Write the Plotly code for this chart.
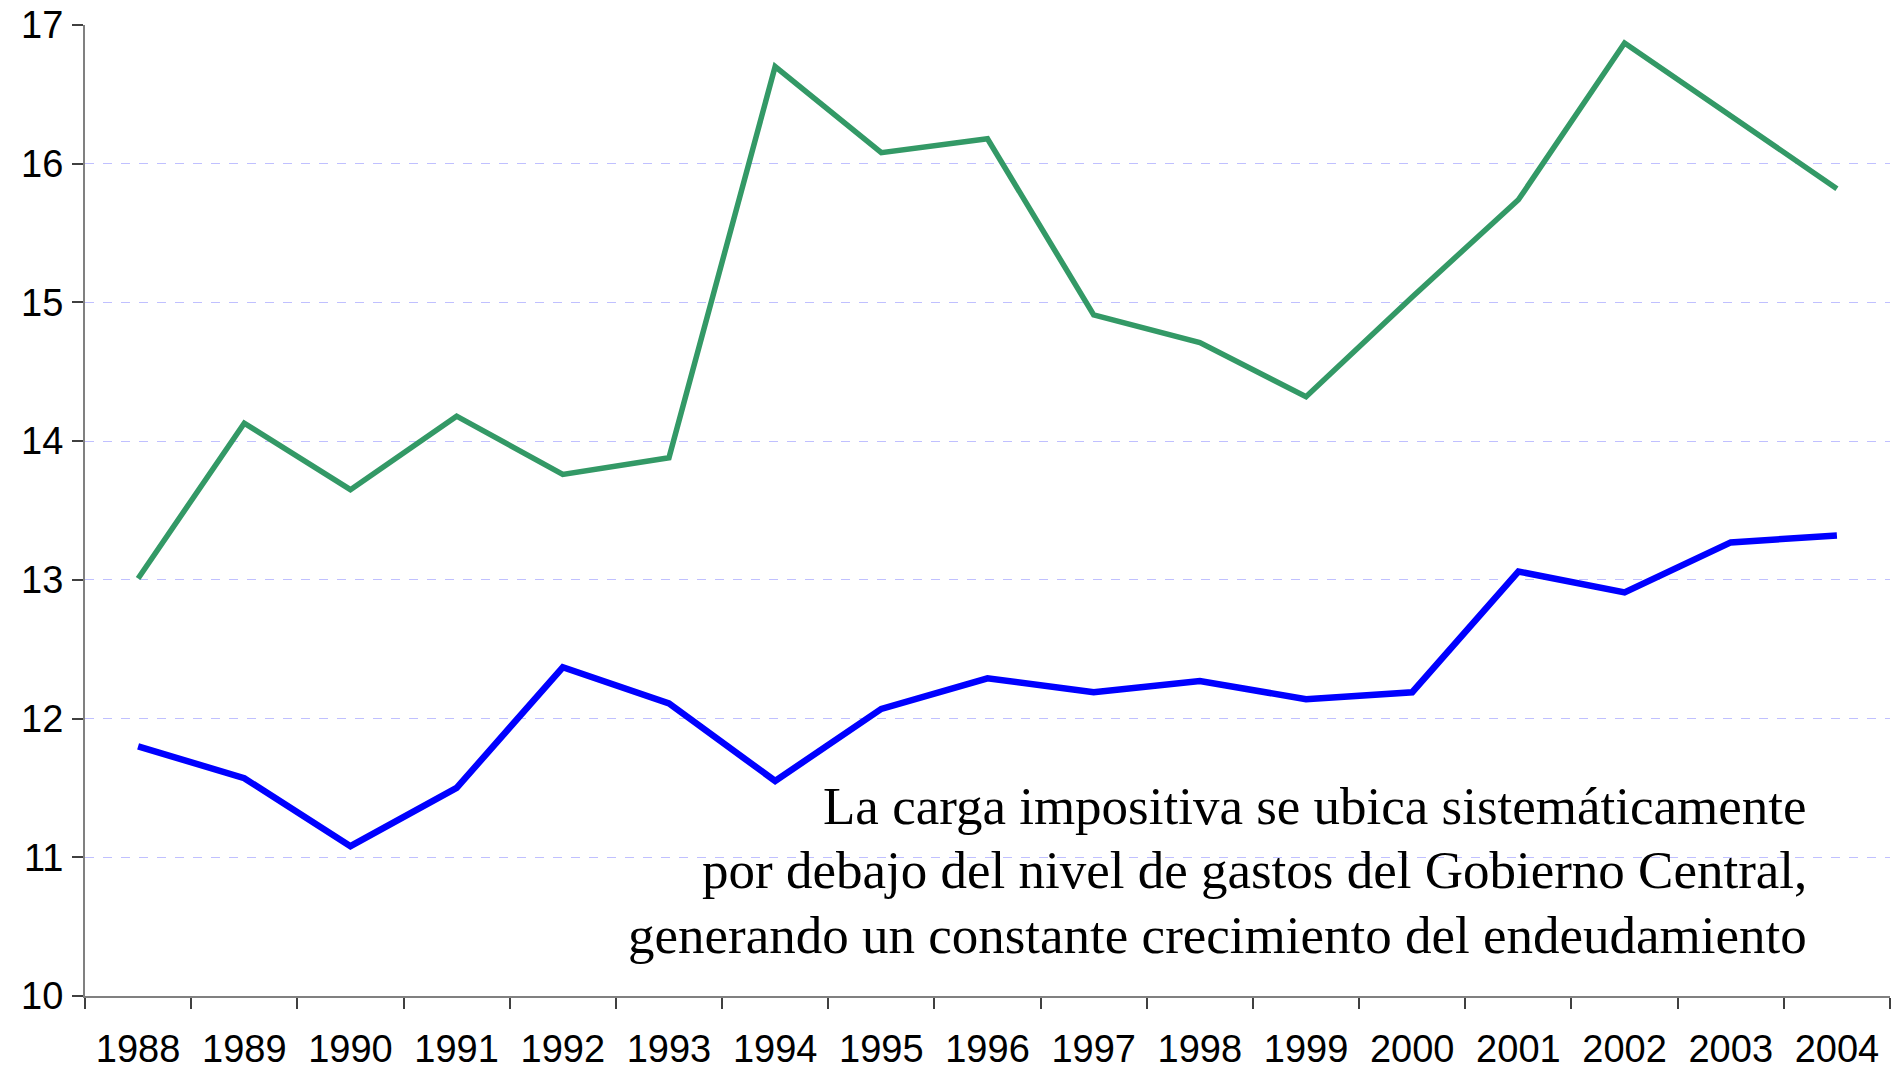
import plotly.graph_objects as go

years = [str(y) for y in range(1988, 2005)]
gastos = [13.01, 14.13, 13.65, 14.18, 13.76, 13.88, 16.70, 16.08, 16.18,
          14.91, 14.71, 14.32, 15.04, 15.74, 16.87, 16.35, 15.82]
ingresos = [11.80, 11.57, 11.08, 11.50, 12.37, 12.11, 11.55, 12.07, 12.29,
            12.19, 12.27, 12.14, 12.19, 13.06, 12.91, 13.27, 13.32]
y_ticks = [10, 11, 12, 13, 14, 15, 16, 17]
note_lines = [
    "La carga impositiva se ubica sistemáticamente",
    "por debajo del nivel de gastos del Gobierno Central,",
    "generando un constante crecimiento del endeudamiento",
]

fig = go.Figure()
fig.add_trace(go.Scatter(x=years, y=gastos, mode="lines", name="Gastos",
                         line=dict(color="#339966", width=5.5)))
fig.add_trace(go.Scatter(x=years, y=ingresos, mode="lines", name="Ingresos",
                         line=dict(color="#0000FF", width=6.5)))

note_y = [0.1957, 0.1298, 0.0628]
for txt, yy in zip(note_lines, note_y):
    fig.add_annotation(text=txt, xref="paper", yref="paper", x=0.9551, y=yy,
                       xanchor="right", yanchor="middle", showarrow=False,
                       font=dict(family="Liberation Serif", size=53, color="black"))

fig.update_layout(
    width=1901, height=1071,
    margin=dict(l=85, r=11, t=25, b=75),
    plot_bgcolor="white", paper_bgcolor="white",
    showlegend=False,
    font=dict(family="Liberation Sans", color="black"),
)
fig.update_xaxes(
    type="category", tickson="boundaries", range=[-0.5, 16.5],
    automargin=False, ticklabeloverflow="allow",
    showline=True, linecolor="#808080", linewidth=2,
    ticks="outside", ticklen=11, tickcolor="#404040", tickwidth=1.5,
    showgrid=False, zeroline=False,
    tickfont=dict(family="Liberation Sans", size=38, color="black"),
    ticklabelstandoff=18,
)
fig.update_yaxes(
    range=[10, 17], tickvals=y_ticks,
    automargin=False, ticklabeloverflow="allow",
    showline=True, linecolor="#808080", linewidth=2,
    ticks="outside", ticklen=11, tickcolor="#404040", tickwidth=1.5,
    showgrid=True, gridcolor="#C0C0FF", gridwidth=1.3, griddash="dash",
    zeroline=False,
    tickfont=dict(family="Liberation Sans", size=38, color="black"),
    ticklabelstandoff=1,
)

# remove the default 8px page margin so the 1901x1071 figure fills the window
fig.write_html("out.html", config={"displayModeBar": False},
               post_script="document.body.style.margin='0';")
